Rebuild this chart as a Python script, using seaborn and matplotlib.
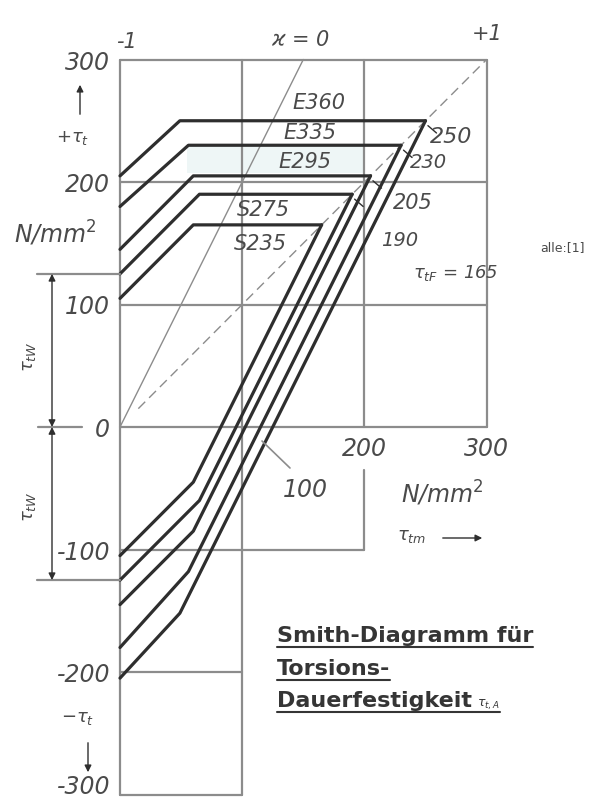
#!/usr/bin/env python3
# smith_torsion.py - Smith-Diagramm fuer Torsions-Dauerfestigkeit

import pandas as pd
import matplotlib
matplotlib.use("Agg")
import matplotlib.pyplot as plt
import seaborn as sns

sns.set_theme(style="white")
plt.rcParams["font.family"] = ["DejaVu Sans"]
plt.rcParams["mathtext.fontset"] = "dejavusans"

# 1. Data (N/mm^2)
materials = ["S235", "S275", "E295", "E335", "E360"]
tau_w = [105, 125, 145, 180, 205]      # alternating strength at tau_m = 0
tau_f = [165, 190, 205, 230, 250]      # torsional yield strength
tau_m_knee = [60, 65, 60, 56, 49]      # mean stress where upper line reaches tau_f

y_ticks = [300, 200, 100, 0, -100, -200, -300]
y_tick_labels = ["300", "200", "100", "0", "-100", "-200", "-300"]
x_ticks = [200, 300]

# 2. Build polyline table (upper + lower line per material)
rows = []
for m, tw, tf, tk in zip(materials, tau_w, tau_f, tau_m_knee):
    for tm, t in [(0, tw), (tk, tf), (tf, tf)]:
        rows.append({"material": m, "seg": m + "_o", "tm": tm, "t": t})
    for tm, t in [(0, -tw), (tk, 2 * tk - tf), (tf, tf)]:
        rows.append({"material": m, "seg": m + "_u", "tm": tm, "t": t})
df = pd.DataFrame(rows)

# 3. Figure: axes fill the whole canvas, data coords map to pixels
W, H = 601, 808
X0, SX = 120.0, 1.222
Y0, SY = 427.0, 1.225
fig = plt.figure(figsize=(W / 100, H / 100), dpi=100)
ax = fig.add_axes([0, 0, 1, 1])


def p(px, py):
    """pixel position -> data position (for text placement only)"""
    return (px - X0) / SX, (Y0 - py) / SY


GRID = "#8c8c8c"
INK = "#2e2e2e"
TXT = "#4a4a4a"
glw = 1.6

# frame / grid
for y in [300, 200, 100, 0]:
    ax.plot([0, 300], [y, y], color=GRID, lw=glw)
ax.plot([0, 200], [-100, -100], color=GRID, lw=glw)
ax.plot([0, 100], [-200, -200], color=GRID, lw=glw)
ax.plot([0, 100], [-300, -300], color=GRID, lw=glw)
ax.plot([0, 0], [-300, 300], color=GRID, lw=glw)
ax.plot([100, 100], [-300, 300], color=GRID, lw=glw)
ax.plot([200, 200], [0, 300], color=GRID, lw=glw)
ax.plot([200, 200], [-35, -100], color=GRID, lw=glw)
ax.plot([300, 300], [0, 300], color=GRID, lw=glw)

# kappa lines
ax.plot([0, 150], [0, 300], color=GRID, lw=1.0)
ax.plot([15, 300], [15, 300], color=GRID, lw=1.0, dashes=(7, 4))

# faint tint seen in the scan
ax.fill_between([55, 200], 207, 229, color="#eef6f6", lw=0, zorder=0)

# 4. Material curves
sns.lineplot(data=df, x="tm", y="t", units="seg", estimator=None, sort=False,
             color=INK, lw=2.3, ax=ax, legend=False)
ax.set_xlim(-X0 / SX, (W - X0) / SX)
ax.set_ylim(-(H - Y0) / SY, Y0 / SY)
ax.axis("off")

# 5. Left axis annotations
FS = 17
for y, lab in zip(y_ticks, y_tick_labels):
    py = Y0 - y * SY + 3
    if y == -300:
        py = 787
    ax.text(*p(110, py), lab, ha="right", va="center",
            fontsize=FS, style="italic", color=TXT)
ax.plot([p(38, 0)[0], p(82, 0)[0]], [0, 0], color=GRID, lw=glw)
ax.plot([p(37, 0)[0], 0], [125, 125], color=GRID, lw=glw)
ax.plot([p(37, 0)[0], 0], [-125, -125], color=GRID, lw=glw)
xd = p(52, 0)[0]
for y1 in [125, -125]:
    ax.annotate("", xy=(xd, y1), xytext=(xd, 0),
                arrowprops=dict(arrowstyle="<|-|>", color=INK, lw=1.0,
                                mutation_scale=10, shrinkA=0, shrinkB=0))
ax.text(*p(29, 357), r"$\tau_{tW}$", rotation=90, ha="center", va="center",
        fontsize=13, color=TXT)
ax.text(*p(29, 507), r"$\tau_{tW}$", rotation=90, ha="center", va="center",
        fontsize=13, color=TXT)
ax.text(*p(73, 138), r"+$\tau_t$", ha="center", va="center", fontsize=13, color=TXT)
ax.annotate("", xy=p(80, 82), xytext=p(80, 117),
            arrowprops=dict(arrowstyle="-|>", color=INK, lw=1.0, mutation_scale=10))
ax.text(*p(78, 718), r"$-\tau_t$", ha="center", va="center", fontsize=13, color=TXT)
ax.annotate("", xy=p(88, 775), xytext=p(88, 740),
            arrowprops=dict(arrowstyle="-|>", color=INK, lw=1.0, mutation_scale=10))
ax.text(*p(55, 233), r"N/mm$^2$", ha="center", va="center", fontsize=FS,
        style="italic", color=TXT)

# top labels
ax.text(*p(126, 42), "-1", ha="center", va="center", fontsize=15, style="italic", color=TXT)
ax.text(*p(300, 40), r"$\varkappa$ = 0", ha="center", va="center", fontsize=15,
        style="italic", color=TXT)
ax.text(*p(487, 34), "+1", ha="center", va="center", fontsize=15, style="italic", color=TXT)

# bottom labels
for x in x_ticks:
    ax.text(x, p(0, 449)[1], str(x), ha="center", va="center", fontsize=FS,
            style="italic", color=TXT)
ax.text(*p(305, 490), "100", ha="center", va="center", fontsize=FS,
        style="italic", color=TXT)
ax.plot([p(262, 0)[0], p(290, 0)[0]], [p(0, 441)[1], p(0, 468)[1]], color=GRID, lw=1.2)
ax.text(*p(442, 493), r"N/mm$^2$", ha="center", va="center", fontsize=FS,
        style="italic", color=TXT)
ax.text(*p(412, 536), r"$\tau_{tm}$", ha="center", va="center", fontsize=13, color=TXT)
ax.annotate("", xy=p(485, 538), xytext=p(440, 538),
            arrowprops=dict(arrowstyle="-|>", color=INK, lw=1.0, mutation_scale=10))

# material names
name_pos = {"E360": (292, 103), "E335": (283, 133), "E295": (278, 162),
            "S275": (237, 210), "S235": (234, 244)}
for m in materials:
    ax.text(*p(*name_pos[m]), m, ha="left", va="center", fontsize=15,
            style="italic", color=TXT)

# yield strength labels on the right
tf_pos = {250: (451, 137, 16), 230: (428, 163, 14), 205: (413, 203, 15),
          190: (400, 240, 14)}
for tf in tau_f:
    if tf in tf_pos:
        x, y, fs = tf_pos[tf]
        ax.text(*p(x, y), str(tf), ha="center", va="center", fontsize=fs,
                style="italic", color=TXT)
        ax.plot([tf + 2, tf + 9], [tf - 4, tf - 10], color=INK, lw=1.0)
ax.text(*p(413, 273), r"$\tau_{tF}$ = 165", ha="left", va="center", fontsize=13,
        style="italic", color=TXT)
ax.text(*p(562, 248), "alle:[1]", ha="center", va="center", fontsize=9, color=TXT)

# 6. Title block (underlined)
title_lines = ["Smith-Diagramm für", "Torsions-", "Dauerfestigkeit"]
baselines = [642, 675, 707]
fig.canvas.draw()
rend = fig.canvas.get_renderer()
inv = ax.transData.inverted()
last = None
for line, by in zip(title_lines, baselines):
    t = ax.text(*p(277, by), line, ha="left", va="baseline", fontsize=16,
                fontweight="bold", color="#353535")
    bb = t.get_window_extent(rend)
    x1 = inv.transform((bb.x0, 0))[0]
    x2 = inv.transform((bb.x1, 0))[0]
    last = x2
    yu = p(0, by + 5)[1]
    ax.plot([x1, x2], [yu, yu], color="#353535", lw=1.5)
sub = ax.text(last + 4, p(0, 707)[1], r"$\tau_{t,A}$", ha="left", va="baseline",
              fontsize=9, color="#353535")
bb = sub.get_window_extent(rend)
yu = p(0, 712)[1]
ax.plot([last, inv.transform((bb.x1, 0))[0]], [yu, yu], color="#353535", lw=1.5)

fig.savefig("out.png", dpi=100)
plt.close(fig)
